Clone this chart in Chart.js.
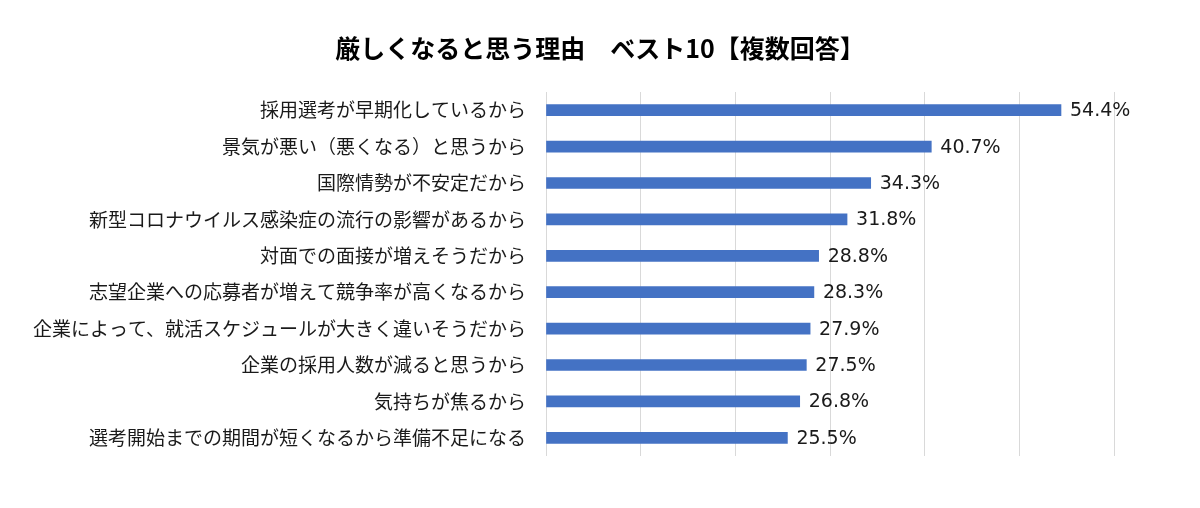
<!DOCTYPE html>
<html lang="ja">
<head>
<meta charset="utf-8">
<script src="https://cdn.jsdelivr.net/npm/chart.js@4.4.1/dist/chart.umd.min.js"></script>
<style>
  html, body { margin:0; padding:0; background:#fff; }
  #wrap { width:1200px; height:508px; }
</style>
</head>
<body>
<div id="wrap"><canvas id="c" width="1200" height="508"></canvas></div>
<script>
// 厳しくなると思う理由 ベスト10
const reasons = [
  '採用選考が早期化しているから',
  '景気が悪い（悪くなる）と思うから',
  '国際情勢が不安定だから',
  '新型コロナウイルス感染症の流行の影響があるから',
  '対面での面接が増えそうだから',
  '志望企業への応募者が増えて競争率が高くなるから',
  '企業によって、就活スケジュールが大きく違いそうだから',
  '企業の採用人数が減ると思うから',
  '気持ちが焦るから',
  '選考開始までの期間が短くなるから準備不足になる'
];
const shares = [54.4, 40.7, 34.3, 31.8, 28.8, 28.3, 27.9, 27.5, 26.8, 25.5];
const axisMax = 60;
const axisStep = 10;

const JP = '"Noto Sans CJK JP", "Noto Sans", sans-serif';

// value labels at the end of each bar
const barLabels = {
  id: 'barLabels',
  afterDatasetsDraw(chart){
    const ctx = chart.ctx;
    const meta = chart.getDatasetMeta(0);
    ctx.save();
    ctx.font = '19px "DejaVu Sans", sans-serif';
    ctx.fillStyle = '#1a1a1a';
    ctx.textAlign = 'left';
    ctx.textBaseline = 'middle';
    meta.data.forEach((bar, i) => {
      ctx.fillText(shares[i].toFixed(1) + '%', bar.x + 9, bar.y + 1);
    });
    ctx.restore();
  }
};

new Chart(document.getElementById('c'), {
  type: 'bar',
  data: {
    labels: reasons,
    datasets: [{
      data: shares,
      backgroundColor: '#4472C4',
      borderWidth: 0,
      barThickness: 11
    }]
  },
  options: {
    indexAxis: 'y',
    responsive: false,
    animation: false,
    layout: { padding: { left: 0, right: 0, top: 0, bottom: 52 } },
    plugins: {
      legend: { display: false },
      tooltip: { enabled: false },
      title: {
        display: true,
        text: '厳しくなると思う理由　ベスト10【複数回答】',
        color: '#000',
        font: { family: JP, size: 25, weight: 'bold' },
        padding: { top: 33, bottom: 29 }
      }
    },
    scales: {
      x: {
        min: 0, max: axisMax,
        ticks: { display: false, stepSize: axisStep },
        grid: { color: '#d9d9d9', lineWidth: 1, drawTicks: false },
        border: { display: false }
      },
      y: {
        afterFit(scale){ scale.width = 546; },
        ticks: { color: '#1a1a1a', font: { family: JP, size: 19 }, padding: 20 },
        grid: { display: false, drawTicks: false },
        border: { display: false }
      },
      // empty right-hand spacer so the plot ends where the reference does
      yRight: {
        position: 'right',
        afterFit(scale){ scale.width = 86; },
        ticks: { display: false },
        grid: { display: false, drawTicks: false },
        border: { display: false }
      }
    }
  },
  plugins: [barLabels]
});
</script>
</body>
</html>
